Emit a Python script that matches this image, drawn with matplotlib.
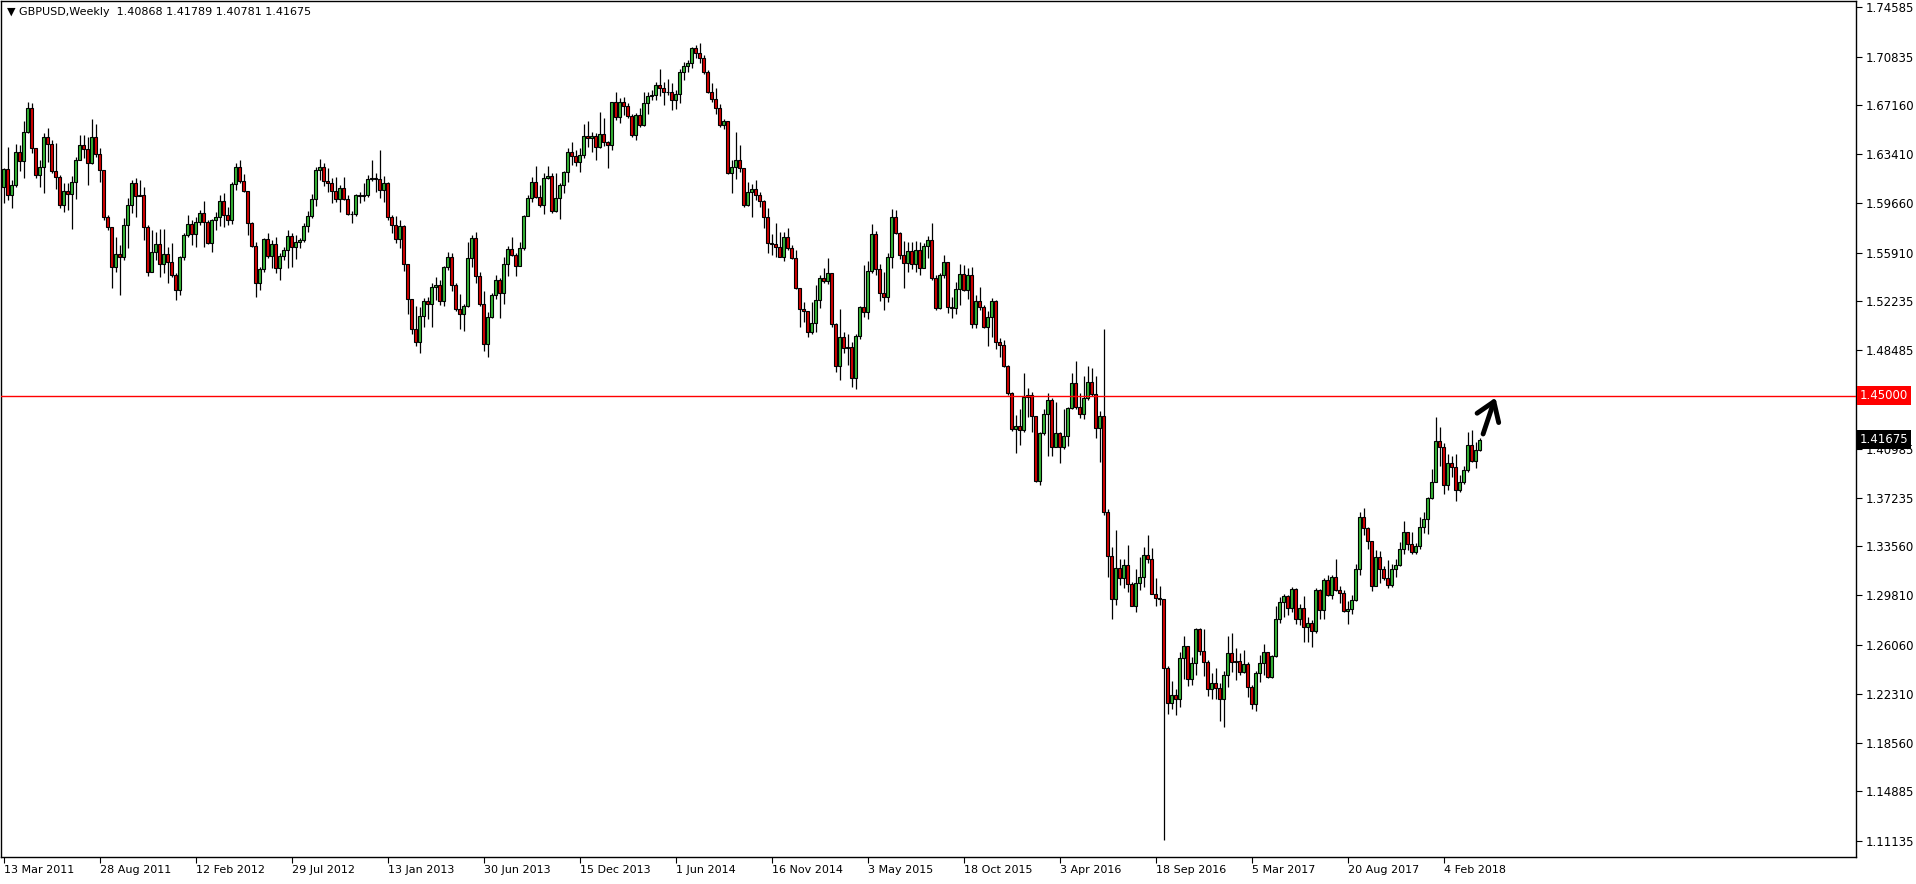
import matplotlib
matplotlib.use("Agg")
import matplotlib.pyplot as plt
import matplotlib.transforms as mtransforms
import numpy as np
import pandas as pd

symbol = "GBPUSD,Weekly"
first_date = "2011-03-13"
first_open = 1.6087

closes = [
    1.6224, 1.6026, 1.6103, 1.6357, 1.6285, 1.6506, 1.6689, 1.6385, 1.6179, 1.6240,
    1.6468, 1.6415, 1.6214, 1.6169, 1.5953, 1.6059, 1.6034, 1.6125, 1.6293, 1.6407,
    1.6377, 1.6270, 1.6468, 1.6339, 1.6217, 1.5864, 1.5788, 1.5478, 1.5584, 1.5556,
    1.5800, 1.5950, 1.6118, 1.6024, 1.6030, 1.5783, 1.5440, 1.5592, 1.5653, 1.5508,
    1.5584, 1.5518, 1.5417, 1.5310, 1.5554, 1.5724, 1.5805, 1.5729, 1.5821, 1.5889,
    1.5826, 1.5666, 1.5836, 1.5859, 1.5984, 1.5877, 1.5839, 1.6110, 1.6245, 1.6136,
    1.6062, 1.5818, 1.5643, 1.5356, 1.5463, 1.5691, 1.5567, 1.5653, 1.5476, 1.5564,
    1.5608, 1.5717, 1.5636, 1.5674, 1.5686, 1.5793, 1.5872, 1.5999, 1.6220, 1.6240,
    1.6136, 1.6118, 1.6062, 1.5996, 1.6080, 1.5999, 1.5887, 1.5882, 1.6029, 1.6021,
    1.6029, 1.6151, 1.6156, 1.6153, 1.6067, 1.6118, 1.5864, 1.5798, 1.5691, 1.5793,
    1.5508, 1.5234, 1.5006, 1.4912, 1.5107, 1.5222, 1.5199, 1.5331, 1.5343, 1.5224,
    1.5483, 1.5554, 1.5348, 1.5158, 1.5122, 1.5183, 1.5547, 1.5699, 1.5412, 1.5199,
    1.4894, 1.5097, 1.5267, 1.5382, 1.5280, 1.5503, 1.5615, 1.5572, 1.5488, 1.5623,
    1.5869, 1.6004, 1.6131, 1.6011, 1.5953, 1.6156, 1.6174, 1.5910, 1.6004, 1.6105,
    1.6207, 1.6354, 1.6328, 1.6282, 1.6333, 1.6478, 1.6460, 1.6478, 1.6397, 1.6491,
    1.6430, 1.6409, 1.6735, 1.6625, 1.6740, 1.6709, 1.6633, 1.6486, 1.6638, 1.6562,
    1.6727, 1.6783, 1.6790, 1.6867, 1.6841, 1.6811, 1.6811, 1.6750, 1.6795, 1.6963,
    1.7011, 1.7037, 1.7146, 1.7108, 1.7075, 1.6968, 1.6811, 1.6760, 1.6689, 1.6562,
    1.6592, 1.6200, 1.6244, 1.6295, 1.6232, 1.5952, 1.6049, 1.6079, 1.6030, 1.5984,
    1.5864, 1.5661, 1.5658, 1.5636, 1.5560, 1.5707, 1.5623, 1.5547, 1.5323, 1.5158,
    1.5148, 1.4988, 1.5052, 1.5229, 1.5395, 1.5374, 1.5433, 1.5044, 1.4729, 1.4945,
    1.4861, 1.4874, 1.4638, 1.4955, 1.5176, 1.5135, 1.5450, 1.5730, 1.5466, 1.5280,
    1.5255, 1.5555, 1.5859, 1.5737, 1.5572, 1.5509, 1.5603, 1.5501, 1.5610, 1.5476,
    1.5641, 1.5687, 1.5395, 1.5166, 1.5420, 1.5522, 1.5179, 1.5166, 1.5314, 1.5425,
    1.5306, 1.5420, 1.5044, 1.5222, 1.5179, 1.5027, 1.5103, 1.5222, 1.4907, 1.4887,
    1.4729, 1.4519, 1.4247, 1.4270, 1.4244, 1.4488, 1.4506, 1.4349, 1.3851, 1.4214,
    1.4366, 1.4468, 1.4112, 1.4214, 1.4112, 1.4196, 1.4409, 1.4602, 1.4417, 1.4359,
    1.4481, 1.4603, 1.4511, 1.4252, 1.4349, 1.3617, 1.3280, 1.2950, 1.3190, 1.3110,
    1.3212, 1.3067, 1.2902, 1.3072, 1.3123, 1.3286, 1.3260, 1.2991, 1.2958, 1.2950,
    1.2432, 1.2163, 1.2221, 1.2189, 1.2508, 1.2595, 1.2348, 1.2468, 1.2724, 1.2559,
    1.2476, 1.2265, 1.2318, 1.2277, 1.2189, 1.2374, 1.2539, 1.2476, 1.2478, 1.2399,
    1.2458, 1.2285, 1.2158, 1.2387, 1.2463, 1.2547, 1.2361, 1.2519, 1.2798, 1.2933,
    1.2976, 1.2882, 1.3027, 1.2798, 1.2882, 1.2737, 1.2768, 1.2712, 1.3022, 1.2869,
    1.3097, 1.2988, 1.3123, 1.3021, 1.2996, 1.2861, 1.2876, 1.2945, 1.3186, 1.3580,
    1.3491, 1.3395, 1.3054, 1.3275, 1.3181, 1.3115, 1.3064, 1.3181, 1.3211, 1.3333,
    1.3465, 1.3369, 1.3313, 1.3356, 1.3504, 1.3562, 1.3720, 1.3841, 1.4156, 1.4113,
    1.3821, 1.3989, 1.3961, 1.3783, 1.3841, 1.3936, 1.4126, 1.4004, 1.40868, 1.41675,
]

highs = [
    1.6232, 1.6397, 1.6143, 1.6418, 1.6410, 1.6593, 1.6735, 1.6727, 1.6385, 1.6296,
    1.6499, 1.6537, 1.6448, 1.6428, 1.6181, 1.6118, 1.6118, 1.6174, 1.6321, 1.6486,
    1.6486, 1.6473, 1.6605, 1.6567, 1.6385, 1.6194, 1.5877, 1.5750, 1.5711, 1.5648,
    1.5851, 1.6004, 1.6143, 1.6156, 1.6143, 1.6092, 1.5800, 1.5762, 1.5750, 1.5767,
    1.5767, 1.5635, 1.5661, 1.5437, 1.5564, 1.5737, 1.5877, 1.5839, 1.5864, 1.5915,
    1.5984, 1.5839, 1.5846, 1.5902, 1.6029, 1.6042, 1.5941, 1.6131, 1.6270, 1.6296,
    1.6187, 1.6055, 1.5821, 1.5674, 1.5483, 1.5699, 1.5737, 1.5686, 1.5712, 1.5585,
    1.5636, 1.5762, 1.5737, 1.5724, 1.5699, 1.5814, 1.5907, 1.6034, 1.6245, 1.6301,
    1.6270, 1.6237, 1.6156, 1.6169, 1.6105, 1.6169, 1.6029, 1.5907, 1.6034, 1.6055,
    1.6118, 1.6182, 1.6296, 1.6194, 1.6372, 1.6174, 1.6131, 1.5877, 1.5869, 1.5839,
    1.5801, 1.5503, 1.5204, 1.5184, 1.5178, 1.5242, 1.5250, 1.5356, 1.5407, 1.5382,
    1.5488, 1.5597, 1.5590, 1.5356, 1.5275, 1.5199, 1.5674, 1.5724, 1.5750, 1.5445,
    1.5300, 1.5140, 1.5285, 1.5420, 1.5394, 1.5559, 1.5641, 1.5707, 1.5590, 1.5674,
    1.5877, 1.6029, 1.6169, 1.6250, 1.6105, 1.6194, 1.6250, 1.6199, 1.6194, 1.6123,
    1.6215, 1.6384, 1.6435, 1.6371, 1.6384, 1.6567, 1.6592, 1.6506, 1.6498, 1.6658,
    1.6613, 1.6440, 1.6740, 1.6811, 1.6770, 1.6778, 1.6727, 1.6643, 1.6651, 1.6694,
    1.6816, 1.6816, 1.6829, 1.6892, 1.6989, 1.6892, 1.6912, 1.6879, 1.6829, 1.6986,
    1.7044, 1.7057, 1.7159, 1.7171, 1.7184, 1.7095, 1.6981, 1.6879, 1.6841, 1.6719,
    1.6608, 1.6582, 1.6295, 1.6511, 1.6409, 1.6232, 1.6130, 1.6117, 1.6140, 1.6055,
    1.5991, 1.5933, 1.5730, 1.5814, 1.5745, 1.5745, 1.5776, 1.5648, 1.5610, 1.5313,
    1.5217, 1.5128, 1.5212, 1.5344, 1.5420, 1.5471, 1.5552, 1.5425, 1.5052, 1.5161,
    1.4983, 1.4975, 1.4912, 1.4975, 1.5186, 1.5496, 1.5527, 1.5806, 1.5755, 1.5501,
    1.5445, 1.5585, 1.5920, 1.5915, 1.5745, 1.5679, 1.5674, 1.5674, 1.5679, 1.5674,
    1.5661, 1.5720, 1.5814, 1.5420, 1.5433, 1.5573, 1.5522, 1.5255, 1.5370, 1.5502,
    1.5497, 1.5476, 1.5484, 1.5268, 1.5331, 1.5192, 1.5146, 1.5242, 1.5230, 1.4938,
    1.4925, 1.4734, 1.4526, 1.4354, 1.4404, 1.4671, 1.4557, 1.4531, 1.4303, 1.4227,
    1.4399, 1.4519, 1.4481, 1.4455, 1.4227, 1.4404, 1.4417, 1.4671, 1.4765, 1.4519,
    1.4653, 1.4729, 1.4714, 1.4653, 1.4384, 1.5009, 1.3640, 1.3350, 1.3480, 1.3260,
    1.3260, 1.3365, 1.3085, 1.3179, 1.3271, 1.3347, 1.3441, 1.3339, 1.3110, 1.3052,
    1.2945, 1.2442, 1.2331, 1.2265, 1.2552, 1.2671, 1.2590, 1.2514, 1.2735, 1.2730,
    1.2724, 1.2488, 1.2387, 1.2425, 1.2316, 1.2407, 1.2671, 1.2697, 1.2577, 1.2539,
    1.2564, 1.2476, 1.2298, 1.2407, 1.2526, 1.2610, 1.2552, 1.2526, 1.2900, 1.2966,
    1.2991, 1.2983, 1.3042, 1.3034, 1.2915, 1.2976, 1.2813, 1.2793, 1.3034, 1.3029,
    1.3115, 1.3135, 1.3140, 1.3262, 1.3054, 1.3021, 1.2937, 1.2983, 1.3224, 1.3618,
    1.3648, 1.3504, 1.3389, 1.3326, 1.3318, 1.3206, 1.3249, 1.3217, 1.3257, 1.3389,
    1.3547, 1.3466, 1.3466, 1.3377, 1.3580, 1.3613, 1.3732, 1.3943, 1.4342, 1.4266,
    1.4139, 1.4055, 1.4045, 1.4055, 1.3897, 1.3968, 1.4222, 1.4240, 1.4151, 1.41789,
]

lows = [
    1.5965, 1.5991, 1.5927, 1.6087, 1.6214, 1.6156, 1.6499, 1.6346, 1.6156, 1.6092,
    1.6047, 1.6283, 1.6194, 1.6072, 1.5927, 1.5902, 1.5915, 1.5767, 1.5996, 1.6296,
    1.6308, 1.6105, 1.6265, 1.6321, 1.6131, 1.5838, 1.5762, 1.5318, 1.5445, 1.5267,
    1.5534, 1.5623, 1.5894, 1.5864, 1.6020, 1.5686, 1.5414, 1.5445, 1.5534, 1.5402,
    1.5432, 1.5356, 1.5407, 1.5229, 1.5267, 1.5534, 1.5711, 1.5648, 1.5636, 1.5801,
    1.5636, 1.5653, 1.5592, 1.5763, 1.5796, 1.5788, 1.5801, 1.5806, 1.6067, 1.6118,
    1.6055, 1.5725, 1.5636, 1.5255, 1.5305, 1.5440, 1.5547, 1.5476, 1.5432, 1.5382,
    1.5534, 1.5471, 1.5483, 1.5542, 1.5628, 1.5674, 1.5745, 1.5857, 1.5946, 1.6144,
    1.6100, 1.6055, 1.5966, 1.5978, 1.5902, 1.5991, 1.5877, 1.5813, 1.5872, 1.5966,
    1.5984, 1.6016, 1.6136, 1.6055, 1.6004, 1.5978, 1.5839, 1.5737, 1.5661, 1.5623,
    1.5453, 1.5122, 1.4975, 1.4879, 1.4823, 1.5021, 1.5082, 1.5021, 1.5229, 1.5191,
    1.5186, 1.5458, 1.5300, 1.5148, 1.5006, 1.4996, 1.5178, 1.5483, 1.5356, 1.5184,
    1.4843, 1.4797, 1.5090, 1.5234, 1.5090, 1.5199, 1.5412, 1.5564, 1.5412, 1.5488,
    1.5610, 1.5869, 1.5978, 1.6004, 1.5940, 1.5884, 1.6149, 1.5890, 1.5902, 1.5844,
    1.6047, 1.6125, 1.6257, 1.6252, 1.6206, 1.6313, 1.6397, 1.6359, 1.6295, 1.6384,
    1.6404, 1.6237, 1.6371, 1.6600, 1.6575, 1.6638, 1.6613, 1.6473, 1.6448, 1.6549,
    1.6557, 1.6648, 1.6752, 1.6752, 1.6785, 1.6714, 1.6790, 1.6676, 1.6684, 1.6727,
    1.6905, 1.6968, 1.6999, 1.7075, 1.7032, 1.6948, 1.6803, 1.6740, 1.6643, 1.6549,
    1.6531, 1.6190, 1.6041, 1.6155, 1.6206, 1.5940, 1.5947, 1.5863, 1.5990, 1.5941,
    1.5781, 1.5585, 1.5572, 1.5560, 1.5560, 1.5527, 1.5610, 1.5542, 1.5313, 1.5026,
    1.5064, 1.4950, 1.4975, 1.4983, 1.5166, 1.5357, 1.5349, 1.5026, 1.4683, 1.4620,
    1.4823, 1.4734, 1.4569, 1.4551, 1.4937, 1.5102, 1.5085, 1.5433, 1.5420, 1.5222,
    1.5153, 1.5212, 1.5476, 1.5730, 1.5542, 1.5318, 1.5440, 1.5466, 1.5445, 1.5420,
    1.5476, 1.5547, 1.5382, 1.5153, 1.5161, 1.5395, 1.5128, 1.5095, 1.5121, 1.5192,
    1.5298, 1.5237, 1.5019, 1.5019, 1.5154, 1.5019, 1.4882, 1.4950, 1.4856, 1.4798,
    1.4722, 1.4506, 1.4232, 1.4069, 1.4125, 1.4227, 1.4341, 1.4227, 1.3846, 1.3825,
    1.4201, 1.4044, 1.4044, 1.4112, 1.3993, 1.4094, 1.4120, 1.4399, 1.4399, 1.4328,
    1.4323, 1.4468, 1.4501, 1.4176, 1.3998, 1.3590, 1.3120, 1.2800, 1.2910, 1.3060,
    1.3040, 1.3009, 1.2900, 1.2857, 1.3022, 1.3047, 1.3230, 1.2991, 1.2900, 1.2907,
    1.1117, 1.2082, 1.2120, 1.2069, 1.2133, 1.2348, 1.2290, 1.2298, 1.2374, 1.2526,
    1.2366, 1.2214, 1.2196, 1.2196, 1.2026, 1.1980, 1.2285, 1.2399, 1.2336, 1.2374,
    1.2392, 1.2204, 1.2120, 1.2102, 1.2323, 1.2374, 1.2354, 1.2356, 1.2509, 1.2768,
    1.2819, 1.2831, 1.2857, 1.2763, 1.2755, 1.2628, 1.2628, 1.2585, 1.2697, 1.2805,
    1.2800, 1.2978, 1.2957, 1.3013, 1.2927, 1.2856, 1.2767, 1.2836, 1.2937, 1.3140,
    1.3440, 1.3333, 1.3013, 1.3072, 1.3072, 1.3097, 1.3039, 1.3046, 1.3123, 1.3206,
    1.3300, 1.3326, 1.3300, 1.3300, 1.3338, 1.3453, 1.3445, 1.3715, 1.3867, 1.3968,
    1.3750, 1.3783, 1.3885, 1.3699, 1.3765, 1.3826, 1.3918, 1.3999, 1.3953, 1.40781,
]

price_ticks = [1.74585, 1.70835, 1.67160, 1.63410, 1.59660, 1.55910, 1.52235,
               1.48485, 1.44735, 1.40985, 1.37235, 1.33560, 1.29810, 1.26060,
               1.22310, 1.18560, 1.14885, 1.11135]
level = 1.45000

# hand drawn arrow (bar index, price)
arrow_shaft = [(369.9, 1.4210), (372.6, 1.4456)]
arrow_head = [(368.4, 1.4368), (372.6, 1.4456), (373.8, 1.4297)]

bull = "#35b535"
bear = "#d40000"

n = len(closes)
opens = [first_open] + closes[:-1]
x = np.arange(n)
o = np.array(opens)
c = np.array(closes)
up = c >= o
dates = pd.date_range(first_date, periods=n, freq="7D")

fig = plt.figure(figsize=(19.16, 8.84), dpi=100)
ax = fig.add_axes([1 / 1916, 27 / 884, 1855 / 1916, 856 / 884])

ax.vlines(x, lows, highs, color="black", linewidth=0.9, zorder=2)
ax.bar(x[up], (c - o)[up], bottom=o[up], width=0.55, color=bull,
       edgecolor="black", linewidth=0.8, zorder=3)
ax.bar(x[~up], (o - c)[~up], bottom=c[~up], width=0.55, color=bear,
       edgecolor="black", linewidth=0.8, zorder=3)

ax.axhline(level, color="#ff0000", linewidth=1.0, zorder=4)

ax.plot(*zip(*arrow_shaft), color="black", linewidth=3.5,
        solid_capstyle="round", zorder=5)
ax.plot(*zip(*arrow_head), color="black", linewidth=3.5,
        solid_capstyle="round", solid_joinstyle="round", zorder=5)

ax.set_xlim(-0.625, 463.125)
ax.set_ylim(1.09896, 1.75065)

ax.yaxis.tick_right()
ax.set_yticks(price_ticks)
# the label under the level box is hidden by it, as in the terminal
ax.set_yticklabels(["" if abs(p - level) < 0.005 else f"{p:.5f}" for p in price_ticks])
ax.tick_params(axis="y", direction="out", length=4, width=0.8, pad=3,
               labelsize=8.5, colors="black")

tick_idx = list(range(0, n, 24))
ax.set_xticks(tick_idx)
ax.set_xticklabels([f"{dates[i].day} {dates[i].strftime('%b %Y')}" for i in tick_idx],
                   ha="left")
ax.tick_params(axis="x", direction="out", length=4, width=0.8, pad=2,
               labelsize=8)

for s in ax.spines.values():
    s.set_color("black")
    s.set_linewidth(1.0)

trans = mtransforms.blended_transform_factory(ax.transAxes, ax.transData)
ax.text(1.002, level, "1.45000", transform=trans, ha="left", va="center",
        fontsize=8.5, color="white", zorder=10, clip_on=False,
        bbox=dict(boxstyle="square,pad=0.25", fc="#ff0000", ec="none"))
ax.text(1.002, closes[-1], f"{closes[-1]:.5f}", transform=trans, ha="left",
        va="center", fontsize=8.5, color="white", zorder=10, clip_on=False,
        bbox=dict(boxstyle="square,pad=0.25", fc="black", ec="none"))

ax.text(0.003, 0.993,
        f"\u25BC {symbol}  {opens[-1]:.5f} {highs[-1]:.5f} {lows[-1]:.5f} {closes[-1]:.5f}",
        transform=ax.transAxes, ha="left", va="top", fontsize=8)

fig.savefig("out.png", dpi=100, facecolor="white")
